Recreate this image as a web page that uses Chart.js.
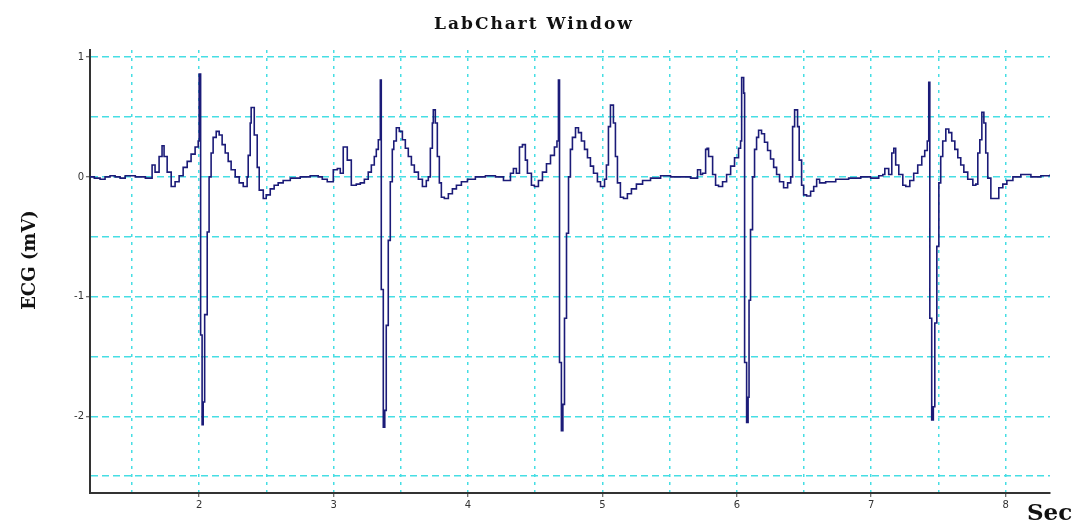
<!DOCTYPE html>
<html lang="es">
<head>
<meta charset="utf-8">
<title>LabChart Window</title>
<script src="https://cdn.jsdelivr.net/npm/chart.js@4.4.1/dist/chart.umd.min.js"></script>
<style>
  html, body { margin: 0; padding: 0; background: #fff; }
  #contenedor { width: 1078px; height: 523px; }
</style>
</head>
<body>
<div id="contenedor"><canvas id="ecgChart" width="1078" height="523"></canvas></div>
<script>
const lineaBase = [[1.188, 0.00], [1.220, -0.01], [1.263, -0.02], [1.300, 0.00], [1.337, 0.01], [1.375, 0.00],
    [1.412, -0.01], [1.450, 0.01], [1.486, 0.01], [1.525, 0.00], [1.561, 0.00], [1.600, -0.01], [1.620, -0.01]];

const latido1 = [[1.650, 0.10], [1.672, 0.04], [1.702, 0.17], [1.724, 0.26], [1.739, 0.17], [1.762, 0.04],
    [1.792, -0.08], [1.821, -0.04], [1.851, 0.01], [1.881, 0.08], [1.911, 0.13], [1.940, 0.19], [1.970, 0.25],
    [1.993, 0.30], [2.000, 0.86], [2.011, -1.32], [2.022, -2.07], [2.030, -1.88], [2.041, -1.15], [2.060, -0.46],
    [2.074, 0.00], [2.089, 0.20], [2.104, 0.33], [2.127, 0.38], [2.149, 0.35], [2.171, 0.27], [2.194, 0.20],
    [2.216, 0.13], [2.238, 0.06], [2.268, 0.00], [2.298, -0.05], [2.328, -0.08], [2.357, 0.00], [2.365, 0.18],
    [2.380, 0.45], [2.387, 0.58], [2.410, 0.35], [2.432, 0.08], [2.447, -0.11], [2.477, -0.18], [2.499, -0.15],
    [2.529, -0.10], [2.558, -0.07], [2.588, -0.05], [2.625, -0.03], [2.678, -0.01], [2.752, 0.00], [2.826, 0.01],
    [2.886, 0.00], [2.916, -0.02], [2.953, -0.04]];

const latido2 = [[2.998, 0.06], [3.028, 0.07], [3.050, 0.03], [3.072, 0.25], [3.102, 0.14], [3.132, -0.07],
    [3.169, -0.06], [3.199, -0.05], [3.229, -0.02], [3.258, 0.04], [3.281, 0.10], [3.303, 0.17], [3.318, 0.23],
    [3.333, 0.31], [3.348, 0.81], [3.355, -0.94], [3.370, -2.09], [3.381, -1.95], [3.392, -1.24], [3.407, -0.53],
    [3.422, -0.04], [3.437, 0.23], [3.448, 0.30], [3.467, 0.41], [3.489, 0.38], [3.512, 0.31], [3.534, 0.24],
    [3.556, 0.17], [3.579, 0.10], [3.601, 0.04], [3.631, -0.02], [3.661, -0.08], [3.690, -0.03], [3.705, 0.00],
    [3.720, 0.24], [3.735, 0.45], [3.742, 0.56], [3.757, 0.45], [3.772, 0.17], [3.787, -0.05], [3.802, -0.17],
    [3.824, -0.18], [3.854, -0.14], [3.884, -0.10], [3.914, -0.07], [3.951, -0.04], [3.996, -0.02], [4.055, 0.00],
    [4.130, 0.01], [4.204, 0.00], [4.264, -0.03]];

const latido3 = [[4.316, 0.03], [4.338, 0.07], [4.360, 0.03], [4.383, 0.25], [4.405, 0.27], [4.427, 0.14],
    [4.442, 0.03], [4.472, -0.07], [4.494, -0.08], [4.524, -0.03], [4.554, 0.04], [4.584, 0.11], [4.614, 0.18],
    [4.643, 0.25], [4.662, 0.30], [4.673, 0.81], [4.681, -1.55], [4.695, -2.12], [4.706, -1.90], [4.718, -1.18],
    [4.733, -0.47], [4.748, 0.00], [4.762, 0.23], [4.777, 0.33], [4.800, 0.41], [4.822, 0.37], [4.844, 0.30],
    [4.867, 0.23], [4.889, 0.16], [4.911, 0.09], [4.934, 0.03], [4.963, -0.04], [4.986, -0.08], [5.016, -0.02],
    [5.030, 0.10], [5.045, 0.42], [5.060, 0.60], [5.082, 0.45], [5.097, 0.17], [5.112, -0.05], [5.134, -0.17],
    [5.157, -0.18], [5.186, -0.14], [5.216, -0.10], [5.253, -0.06], [5.299, -0.03], [5.358, -0.01], [5.433, 0.01],
    [5.507, 0.00], [5.582, 0.00], [5.656, -0.01]];

const latido4 = [[5.693, -0.01], [5.708, 0.06], [5.730, 0.02], [5.745, 0.03], [5.768, 0.23], [5.779, 0.24],
    [5.790, 0.17], [5.820, 0.02], [5.842, -0.07], [5.864, -0.08], [5.894, -0.04], [5.924, 0.02], [5.954, 0.09],
    [5.983, 0.16], [6.013, 0.24], [6.028, 0.30], [6.036, 0.83], [6.051, 0.70], [6.058, -1.55], [6.073, -2.05],
    [6.084, -1.84], [6.091, -1.03], [6.102, -0.44], [6.117, 0.00], [6.132, 0.23], [6.147, 0.33], [6.162, 0.39],
    [6.184, 0.36], [6.206, 0.29], [6.229, 0.22], [6.251, 0.15], [6.274, 0.08], [6.296, 0.02], [6.318, -0.04],
    [6.348, -0.09], [6.378, -0.05], [6.401, 0.00], [6.415, 0.42], [6.430, 0.56], [6.452, 0.42], [6.464, 0.14],
    [6.482, -0.07], [6.497, -0.15], [6.519, -0.16], [6.549, -0.12], [6.572, -0.08], [6.594, -0.02], [6.616, -0.05],
    [6.661, -0.04], [6.736, -0.02], [6.832, -0.01], [6.922, 0.00], [6.996, -0.01], [7.056, 0.01]];

const latido5 = [[7.086, 0.02], [7.101, 0.07], [7.130, 0.02], [7.153, 0.20], [7.168, 0.24], [7.182, 0.10],
    [7.205, 0.02], [7.235, -0.07], [7.257, -0.08], [7.287, -0.03], [7.316, 0.03], [7.346, 0.10], [7.376, 0.17],
    [7.398, 0.22], [7.417, 0.30], [7.428, 0.79], [7.436, -1.18], [7.450, -2.03], [7.462, -1.92], [7.473, -1.22],
    [7.488, -0.58], [7.503, -0.05], [7.517, 0.17], [7.532, 0.30], [7.555, 0.40], [7.577, 0.37], [7.599, 0.30],
    [7.622, 0.23], [7.644, 0.16], [7.666, 0.10], [7.689, 0.04], [7.718, -0.02], [7.756, -0.07], [7.778, -0.06],
    [7.793, 0.20], [7.808, 0.31], [7.823, 0.54], [7.838, 0.45], [7.852, 0.20], [7.867, -0.01], [7.890, -0.18],
    [7.920, -0.18], [7.949, -0.09], [7.979, -0.06], [8.009, -0.03], [8.054, 0.00], [8.113, 0.02], [8.188, 0.00],
    [8.262, 0.01], [8.330, 0.02]];

// marcas de la rejilla (etiqueta solo en los enteros)
const marcasX = [1.5, 2, 2.5, 3, 3.5, 4, 4.5, 5, 5.5, 6, 6.5, 7, 7.5, 8];
const marcasY = [-2.5, -2, -1.5, -1, -0.5, 0, 0.5, 1];

const puntos = [].concat(lineaBase, latido1, latido2, latido3, latido4, latido5)
    .map(p => ({ x: p[0], y: p[1] }));

const cian = '#46dee4';
const fuenteTicks = { family: 'DejaVu Sans', size: 10 };
const colorTick = c => Number.isInteger(c.tick.value) ? '#444' : 'rgba(0,0,0,0)';

// titulos dibujados a mano, como en la ventana original
const textos = {
    id: 'textos',
    afterDraw(chart) {
        const c = chart.ctx;
        const area = chart.chartArea;
        c.save();
        c.fillStyle = '#111';
        c.font = 'bold 17px "DejaVu Serif"';
        c.letterSpacing = '2px';
        c.textAlign = 'center';
        c.textBaseline = 'middle';
        c.fillText('LabChart Window', 534, 25);
        c.letterSpacing = '0px';

        c.translate(30, 260);
        c.rotate(-Math.PI / 2);
        c.font = 'bold 18px "DejaVu Serif"';
        c.fillText('ECG (mV)', 0, 0);
        c.restore();

        c.save();
        c.fillStyle = '#111';
        c.font = 'bold 23px "DejaVu Serif"';
        c.textAlign = 'left';
        c.textBaseline = 'alphabetic';
        c.fillText('Sec', area.right - 23, 520);
        c.restore();
    }
};

const ctx = document.getElementById('ecgChart');

new Chart(ctx, {
    type: 'line',
    data: {
        datasets: [{
            label: 'ECG',
            data: puntos,
            borderColor: '#1b1b78',
            borderWidth: 1.6,
            pointRadius: 0,
            stepped: true,
            fill: false
        }]
    },
    options: {
        responsive: false,
        devicePixelRatio: 1,
        animation: false,
        layout: { padding: { top: 50, right: 28, bottom: 0, left: 0 } },
        plugins: {
            legend: { display: false },
            tooltip: { enabled: false },
            title: { display: false }
        },
        scales: {
            x: {
                type: 'linear',
                min: 1.188,
                max: 8.33,
                afterFit: s => { s.height = 30; },
                afterBuildTicks: s => { s.ticks = marcasX.map(v => ({ value: v })); },
                ticks: {
                    callback: v => Number.isInteger(v) ? v : '',
                    autoSkip: false,
                    maxRotation: 0,
                    padding: 2,
                    color: '#333',
                    font: fuenteTicks
                },
                grid: { color: cian, lineWidth: 1.5, tickLength: 4, tickColor: colorTick, tickWidth: 1 },
                border: { color: '#333', width: 2, dash: [3, 5] }
            },
            y: {
                min: -2.64,
                max: 1.06,
                afterFit: s => { s.width = 90; },
                afterBuildTicks: s => { s.ticks = marcasY.map(v => ({ value: v })); },
                ticks: {
                    callback: v => Number.isInteger(v) ? v : '',
                    autoSkip: false,
                    padding: 2,
                    color: '#333',
                    font: fuenteTicks
                },
                grid: { color: cian, lineWidth: 1.5, tickLength: 4, tickColor: colorTick, tickWidth: 1 },
                border: { color: '#333', width: 2, dash: [7, 4] }
            }
        }
    },
    plugins: [textos]
});
</script>
</body>
</html>
